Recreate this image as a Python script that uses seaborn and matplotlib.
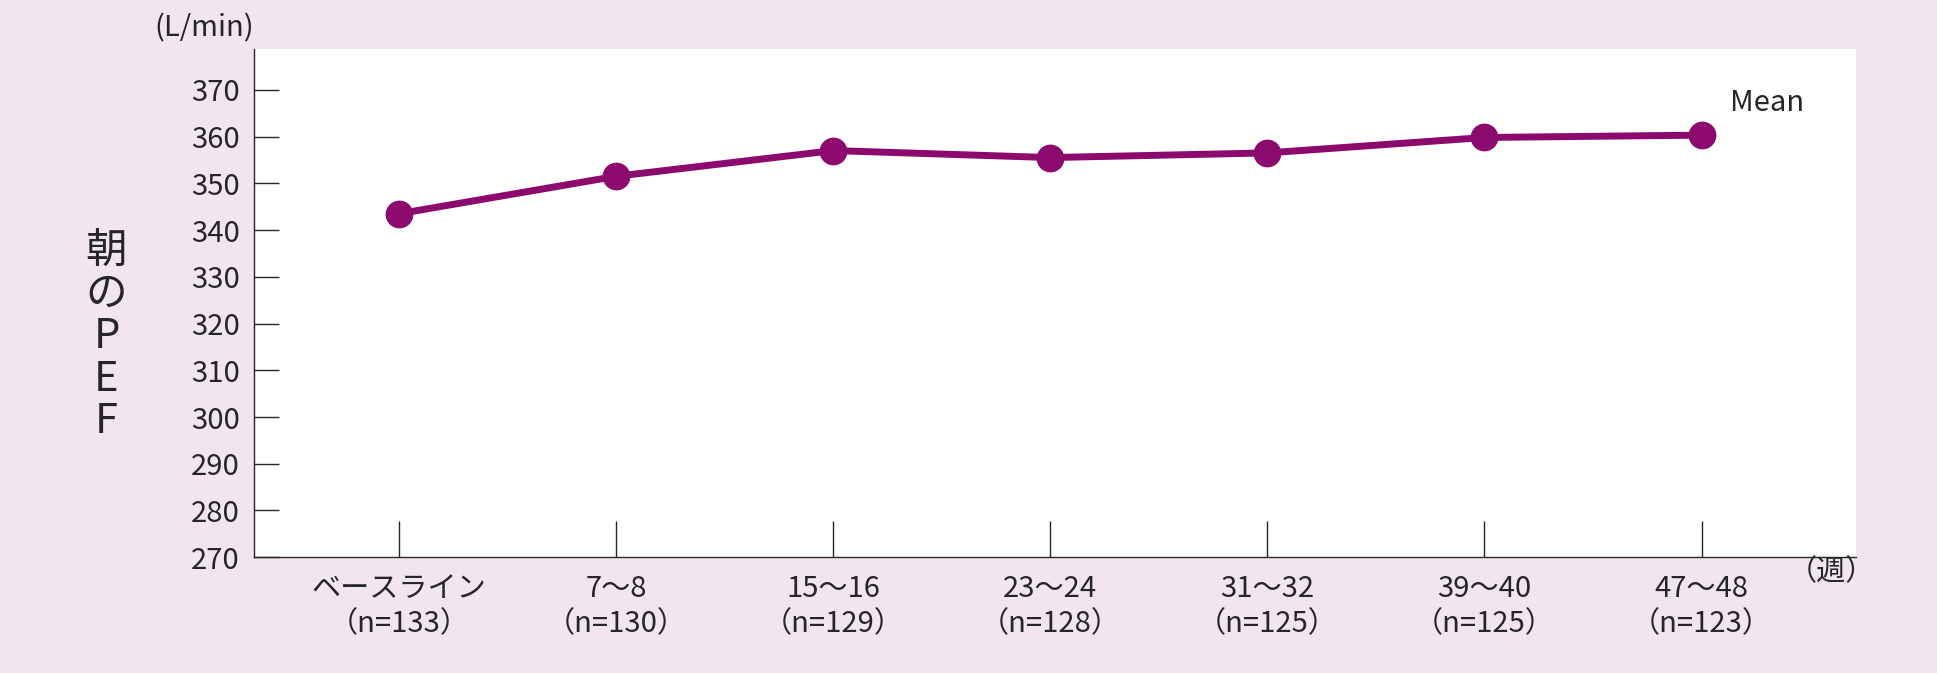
import matplotlib
matplotlib.use('Agg')
import matplotlib.pyplot as plt
import seaborn as sns
import pandas as pd

weeks = ['ベースライン\n（n=133）', '7～8\n（n=130）', '15～16\n（n=129）', '23～24\n（n=128）',
         '31～32\n（n=125）', '39～40\n（n=125）', '47～48\n（n=123）']
pef = [343.5, 351.5, 357.0, 355.5, 356.5, 359.8, 360.3]
yticks = list(range(270, 371, 10))

df = pd.DataFrame({'x': range(len(weeks)), 'pef': pef})

sns.set_style('ticks')
plt.rcParams['font.family'] = ['Noto Sans CJK JP', 'DejaVu Sans']

bg = '#f1e5f0'
col = '#8c0a6e'
fig = plt.figure(figsize=(19.37, 6.73), dpi=100, facecolor=bg)
ax = fig.add_axes([0.131, 0.172, 0.827, 0.755])
ax.set_facecolor('white')

sns.lineplot(data=df, x='x', y='pef', ax=ax, color=col, lw=5, marker='o',
             markersize=20, markeredgewidth=0)

ax.set_xlim(-0.67, 6.71)
ax.set_ylim(270, 378.7)
ax.set_yticks(yticks)
ax.set_xticks(range(len(weeks)))
ax.set_xticklabels(weeks, fontsize=21, linespacing=1.25)
ax.tick_params(axis='y', labelsize=21, direction='in', length=18, width=1, pad=10)
ax.tick_params(axis='x', direction='in', length=26, width=1, pad=12)
for s in ['top', 'right']:
    ax.spines[s].set_visible(False)
for s in ['left', 'bottom']:
    ax.spines[s].set_linewidth(1)
ax.set_xlabel('')
ax.set_ylabel('')

ax.text(-0.67, 380, '(L/min)', fontsize=21, ha='right', va='bottom')
ax.text(0.055, 0.5, '朝\nの\nP\nE\nF', transform=fig.transFigure, fontsize=30,
        ha='center', va='center', linespacing=1.05)
ax.text(6.6, 270, '（週）', fontsize=21, ha='center', va='top')
ax.transData
ax.text(6.3, 364, 'Mean', fontsize=21, ha='center', va='bottom')

fig.savefig('out.png', dpi=100, facecolor=bg)
